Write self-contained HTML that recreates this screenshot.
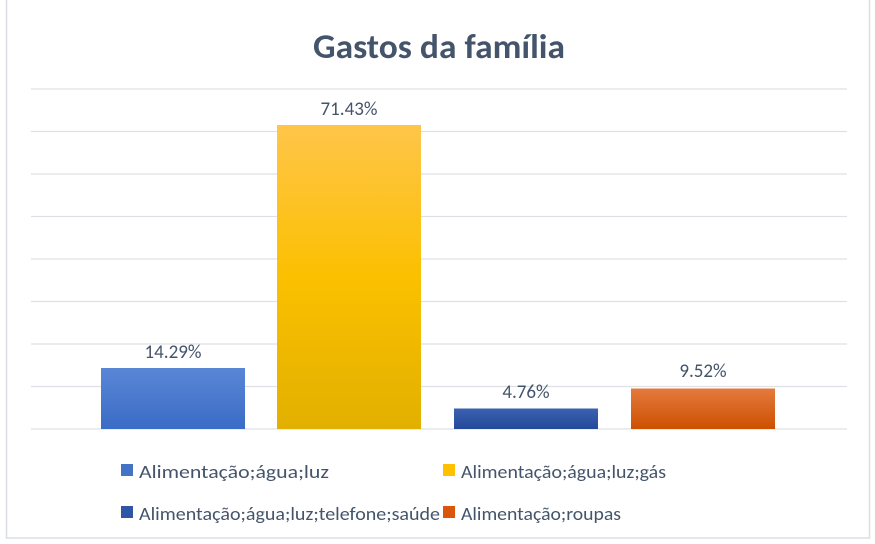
<!DOCTYPE html>
<html><head><meta charset="utf-8"><style>
html,body{margin:0;padding:0;background:#fff;}
svg{display:block;font-family:"Carlito","Liberation Sans",sans-serif;}
</style></head><body>
<svg width="875" height="544" viewBox="0 0 875 544" xmlns="http://www.w3.org/2000/svg">
<defs>
<linearGradient id="g1" x1="0" y1="0" x2="0" y2="1"><stop offset="0" stop-color="#5a86d6"/><stop offset="1" stop-color="#3a6cc6"/></linearGradient>
<linearGradient id="g2" x1="0" y1="0" x2="0" y2="1"><stop offset="0" stop-color="#ffc54a"/><stop offset="0.5" stop-color="#fbc000"/><stop offset="1" stop-color="#e2b000"/></linearGradient>
<linearGradient id="g3" x1="0" y1="0" x2="0" y2="1"><stop offset="0" stop-color="#3a62b0"/><stop offset="1" stop-color="#24489a"/></linearGradient>
<linearGradient id="g4" x1="0" y1="0" x2="0" y2="1"><stop offset="0" stop-color="#e47a3e"/><stop offset="1" stop-color="#cd5000"/></linearGradient>
</defs>
<rect x="6.5" y="-2" width="863" height="540" fill="#fff" stroke="#dadee4" stroke-width="1.5"/>
<text x="439" y="58" text-anchor="middle" font-size="34" font-weight="bold" fill="#44546a" textLength="252" lengthAdjust="spacingAndGlyphs">Gastos da família</text>
<g stroke="#dde1e6" stroke-width="1.3">
<line x1="31" y1="89" x2="847" y2="89"/><line x1="31" y1="131.5" x2="847" y2="131.5"/>
<line x1="31" y1="174" x2="847" y2="174"/><line x1="31" y1="216.5" x2="847" y2="216.5"/>
<line x1="31" y1="259" x2="847" y2="259"/><line x1="31" y1="301.5" x2="847" y2="301.5"/>
<line x1="31" y1="344" x2="847" y2="344"/><line x1="31" y1="386.5" x2="847" y2="386.5"/>
<line x1="31" y1="429" x2="847" y2="429"/>
</g>
<rect x="101" y="368" width="144" height="61" fill="url(#g1)"/>
<rect x="277" y="125" width="144" height="304" fill="url(#g2)"/>
<rect x="454" y="408.5" width="144" height="20.5" fill="url(#g3)"/>
<rect x="631" y="388.5" width="144" height="40.5" fill="url(#g4)"/>
<g font-size="19" fill="#44546a" text-anchor="middle">
<text x="173" y="358">14.29%</text>
<text x="349" y="115">71.43%</text>
<text x="526" y="398">4.76%</text>
<text x="703" y="377">9.52%</text>
</g>
<rect x="121" y="464" width="12" height="12" fill="#4472c4"/>
<rect x="443" y="464" width="12" height="12" fill="#ffc000"/>
<rect x="121" y="506" width="12" height="12" fill="#2f56a4"/>
<rect x="443" y="506" width="12" height="12" fill="#d9560a"/>
<g font-size="18" fill="#44546a">
<text x="139" y="478" textLength="190" lengthAdjust="spacingAndGlyphs">Alimentação;água;luz</text>
<text x="461" y="478" textLength="205" lengthAdjust="spacingAndGlyphs">Alimentação;água;luz;gás</text>
<text x="139" y="520" textLength="301" lengthAdjust="spacingAndGlyphs">Alimentação;água;luz;telefone;saúde</text>
<text x="461" y="520" textLength="160" lengthAdjust="spacingAndGlyphs">Alimentação;roupas</text>
</g>
</svg>
</body></html>
